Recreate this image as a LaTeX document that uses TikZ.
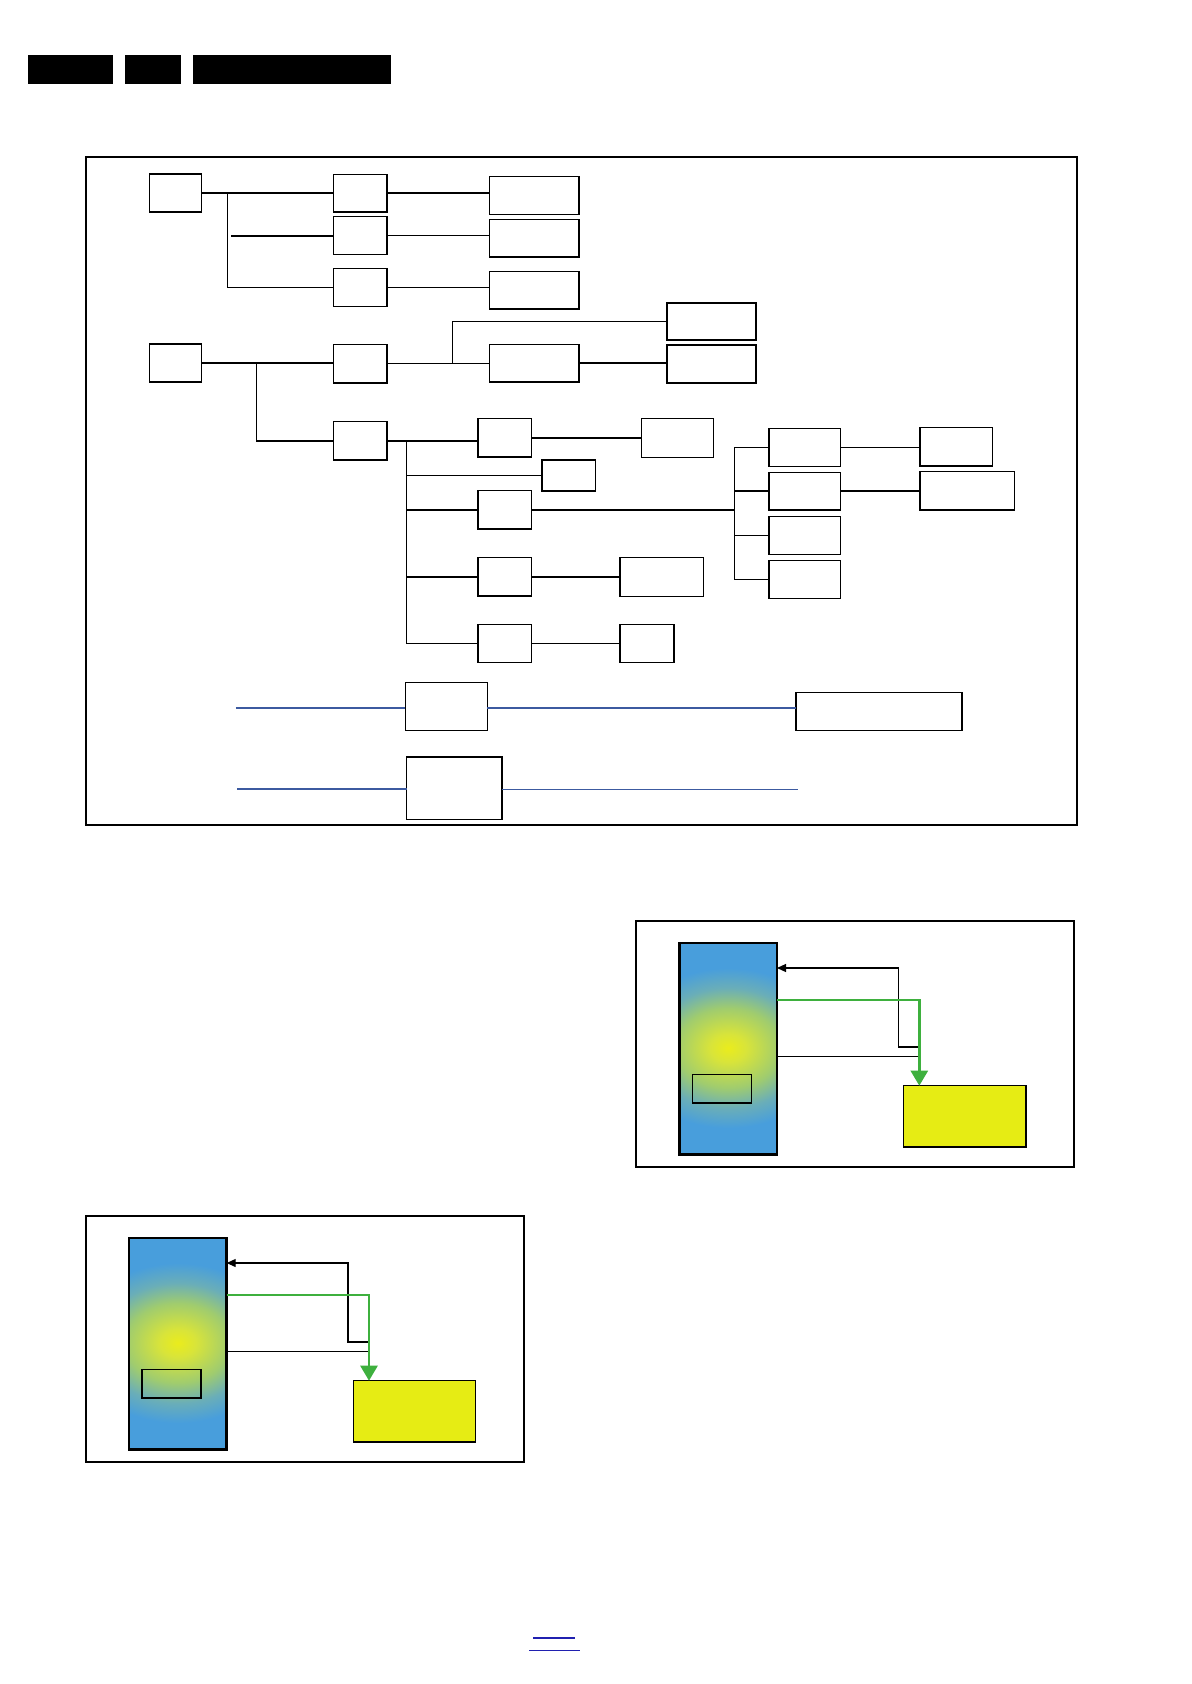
\documentclass[tikz,border=0pt]{standalone}
\usetikzlibrary{arrows.meta,calc}
\definecolor{cb}{RGB}{72,158,220}
\definecolor{cy}{RGB}{234,236,28}
\definecolor{cyg}{RGB}{216,228,58}
\definecolor{cg}{RGB}{160,204,110}
\definecolor{ct}{RGB}{106,174,184}
\definecolor{yelbox}{RGB}{230,236,20}
\definecolor{grn}{RGB}{62,176,62}
\definecolor{bline}{RGB}{60,90,160}
\definecolor{flink}{RGB}{32,32,176}
\pgfdeclareradialshading{chipglow}{\pgfpoint{0bp}{0bp}}{color(0bp)=(cy); color(7bp)=(cyg); color(20bp)=(cg); color(30bp)=(ct); color(40bp)=(cb); color(50bp)=(cb)}
\tikzset{
  boxst/.style={draw=black, line width=0.75pt, fill=white, inner sep=0pt, outer sep=0pt},
  frst/.style={draw=black, line width=1pt, inner sep=0pt, outer sep=0pt},
  pframe/.style={draw=black, line width=0.85pt, inner sep=0pt, outer sep=0pt},
  chipst/.style={draw=black, line width=1.35pt, inner sep=0pt, outer sep=0pt},
  smallst/.style={draw=black, line width=0.6pt, inner sep=0pt, outer sep=0pt},
  yelst/.style={draw=black, line width=0.75pt, fill=yelbox, inner sep=0pt, outer sep=0pt},
  barst/.style={fill=black, inner sep=0pt, outer sep=0pt},
  glowst/.style={inner sep=0pt, outer sep=0pt, xscale=1.295, yscale=0.996},
  conn/.style={draw=black, line width=0.7pt},
  bconn/.style={draw=bline, line width=0.85pt},
  bthin/.style={draw=bline, line width=0.5pt},
  sigarrow/.style={draw=black, line width=0.6pt, -{Triangle[length=4.5pt,width=4pt]}},
  sigthin/.style={draw=black, line width=0.5pt},
  garrow/.style={draw=grn, line width=1.3pt, -{Triangle[length=7.5pt,width=8.5pt]}},
  linkline/.style={draw=flink, line width=0.6pt}
}
\newcommand\bx[6][boxst]{%
  \pgfmathsetmacro\bxw{(#5-#3)*0.5}%
  \pgfmathsetmacro\bxh{(#6-#4)*0.5}%
  \node[#1, anchor=north west, minimum width=\bxw pt, minimum height=\bxh pt] (#2) at (#3,#4) {};}
\newcommand\panel[3]{%
\begin{scope}[shift={(#2,#3)}]
  \bx[pframe]{#1-fr}{636}{920.7}{1074.3}{1167}
  \fill[cb] (679.3,943) rectangle (777,1154.7);
  \begin{scope}
    \clip (679.3,943) rectangle (777,1154.7);
    \node[glowst] (#1-glow) at (728.15,1048) {\pgfuseshading{chipglow}};
  \end{scope}
  \bx[chipst]{#1-chip}{679.3}{943}{777}{1154.7}
  \bx[smallst]{#1-in}{692.3}{1074.3}{751.3}{1103}
  \bx[yelst]{#1-yel}{903.7}{1085.7}{1026}{1147}
  \coordinate (#1-a) at (920,1047);
  \coordinate (#1-b) at (898.3,968);
  \coordinate (#1-t) at (920,1056);
  \coordinate (#1-g) at (919.3,1000);
  \draw[sigarrow] (#1-a) -| (#1-b) -- (#1-b -| #1-chip.east);
  \draw[sigthin] (#1-t -| #1-chip.east) -- (#1-t);
  \draw[garrow] (#1-g -| #1-chip.east) -- (#1-g) -- (#1-g |- #1-yel.north);
\end{scope}}
\begin{document}
\begin{tikzpicture}[x=0.5pt,y=-0.5pt]
\useasboundingbox[fill=white] (0,0) rectangle (1191,1684);
% header bars
\bx[barst]{h1}{28}{55.5}{113}{83.7}
\bx[barst]{h2}{125}{55.5}{181}{83.7}
\bx[barst]{h3}{193}{55.5}{391}{83.7}
% main frame
\bx[frst]{fr1}{85.7}{157.3}{1077}{824.5}
% boxes
\bx{A1}{149.3}{174}{201.7}{212}
\bx{B1}{333.3}{174.3}{387}{212}
\bx{B2}{333.3}{216.7}{387}{254.3}
\bx{B3}{333.3}{268.3}{387}{306.3}
\bx{C1}{489.3}{176.7}{579}{214.7}
\bx{C2}{489.3}{219.3}{579}{257}
\bx{C3}{489.3}{271.3}{579}{309}
\bx{A2}{149.3}{344}{201.7}{382}
\bx{B4}{333.3}{344.3}{387}{383}
\bx{C4}{489.3}{344.3}{579}{382}
\bx{D1}{667}{303}{756}{340}
\bx{D2}{667}{345}{756}{383}
\bx{B5}{333.3}{421.7}{387}{460}
\bx{E1}{477.9}{418.7}{531.3}{457}
\bx{F1}{641.3}{418.7}{713.3}{457.3}
\bx{E2}{542}{460}{595.4}{491}
\bx{E3}{477.9}{490.7}{531.3}{529}
\bx{G1}{768.8}{428.7}{840.4}{466.3}
\bx{G2}{768.8}{472.3}{840.4}{510}
\bx{G3}{768.8}{516.7}{840.4}{554.3}
\bx{G4}{768.8}{560.7}{840.4}{598.3}
\bx{H1}{920}{427.7}{992.5}{466}
\bx{H2}{920}{471.7}{1014.6}{510}
\bx{E4}{477.9}{557.7}{531.3}{596}
\bx{F4}{620}{557.7}{703.3}{596.3}
\bx{E5}{477.9}{624.3}{531.3}{662.3}
\bx{F5}{620}{624.3}{674.2}{662.3}
\bx{J1}{405.4}{682.7}{487.3}{730.3}
\bx{K1}{796}{692.7}{962.2}{730.3}
\bx{J2}{406.6}{757}{501.8}{819.3}
% group 1 connectors
\coordinate (j1) at (227.7,192.7);
\coordinate (j1b) at (231,236);
\draw[conn] (A1.east) -- (A1.east -| B1.west);
\draw[conn] (j1) |- (B3.west);
\draw[conn] (j1b) -- (j1b -| B2.west);
\draw[conn] (B1.east) -- (B1.east -| C1.west);
\draw[conn] (B2.east) -- (B2.east -| C2.west);
\draw[conn] (B3.east) -- (B3.east -| C3.west);
% group 2 connectors
\coordinate (j2) at (256.7,362.7);
\coordinate (j3) at (452.7,362.7);
\draw[conn] (A2.east) -- (A2.east -| B4.west);
\draw[conn] (j2) |- (B5.west);
\draw[conn] (B4.east) -- (B4.east -| C4.west);
\draw[conn] (j3) |- (D1.west);
\draw[conn] (C4.east) -- (C4.east -| D2.west);
% group 3 connectors
\coordinate (j4) at (406.3,440.7);
\coordinate (gj) at (734.6,509.7);
\draw[conn] (B5.east) -- (B5.east -| E1.west);
\draw[conn] (j4) |- (E5.west);
\draw[conn] (j4 |- E2.west) -- (E2.west);
\draw[conn] (j4 |- E3.west) -- (E3.west);
\draw[conn] (j4 |- E4.west) -- (E4.west);
\draw[conn] (E1.east) -- (E1.east -| F1.west);
\draw[conn] (E3.east) -- (E3.east -| gj);
\draw[conn] (G1.west) -| (gj |- G4.west) -- (G4.west);
\draw[conn] (gj |- G2.west) -- (G2.west);
\draw[conn] (gj |- G3.west) -- (G3.west);
\draw[conn] (G1.east) -- (G1.east -| H1.west);
\draw[conn] (G2.east) -- (G2.east -| H2.west);
\draw[conn] (E4.east) -- (E4.east -| F4.west);
\draw[conn] (E5.east) -- (E5.east -| F5.west);
% blue lines
\coordinate (bl1) at (235.8,708);
\coordinate (bl2) at (237,789);
\coordinate (bl3) at (797.8,789.3);
\draw[bconn] (bl1) -- (bl1 -| J1.west);
\draw[bconn] (bl1 -| J1.east) -- (bl1 -| K1.west);
\draw[bconn] (bl2) -- (bl2 -| J2.west);
\draw[bthin] (bl3 -| J2.east) -- (bl3);
% panels
\panel{p1}{0}{0}
\panel{p2}{-550.3}{295}
% footer link lines
\coordinate (fl1a) at (533,1638);
\coordinate (fl1b) at (574.7,1638);
\coordinate (fl2a) at (529.3,1650.3);
\coordinate (fl2b) at (580,1650.3);
\draw[linkline] (fl1a) -- (fl1b);
\draw[linkline] (fl2a) -- (fl2b);
\end{tikzpicture}
\end{document}
